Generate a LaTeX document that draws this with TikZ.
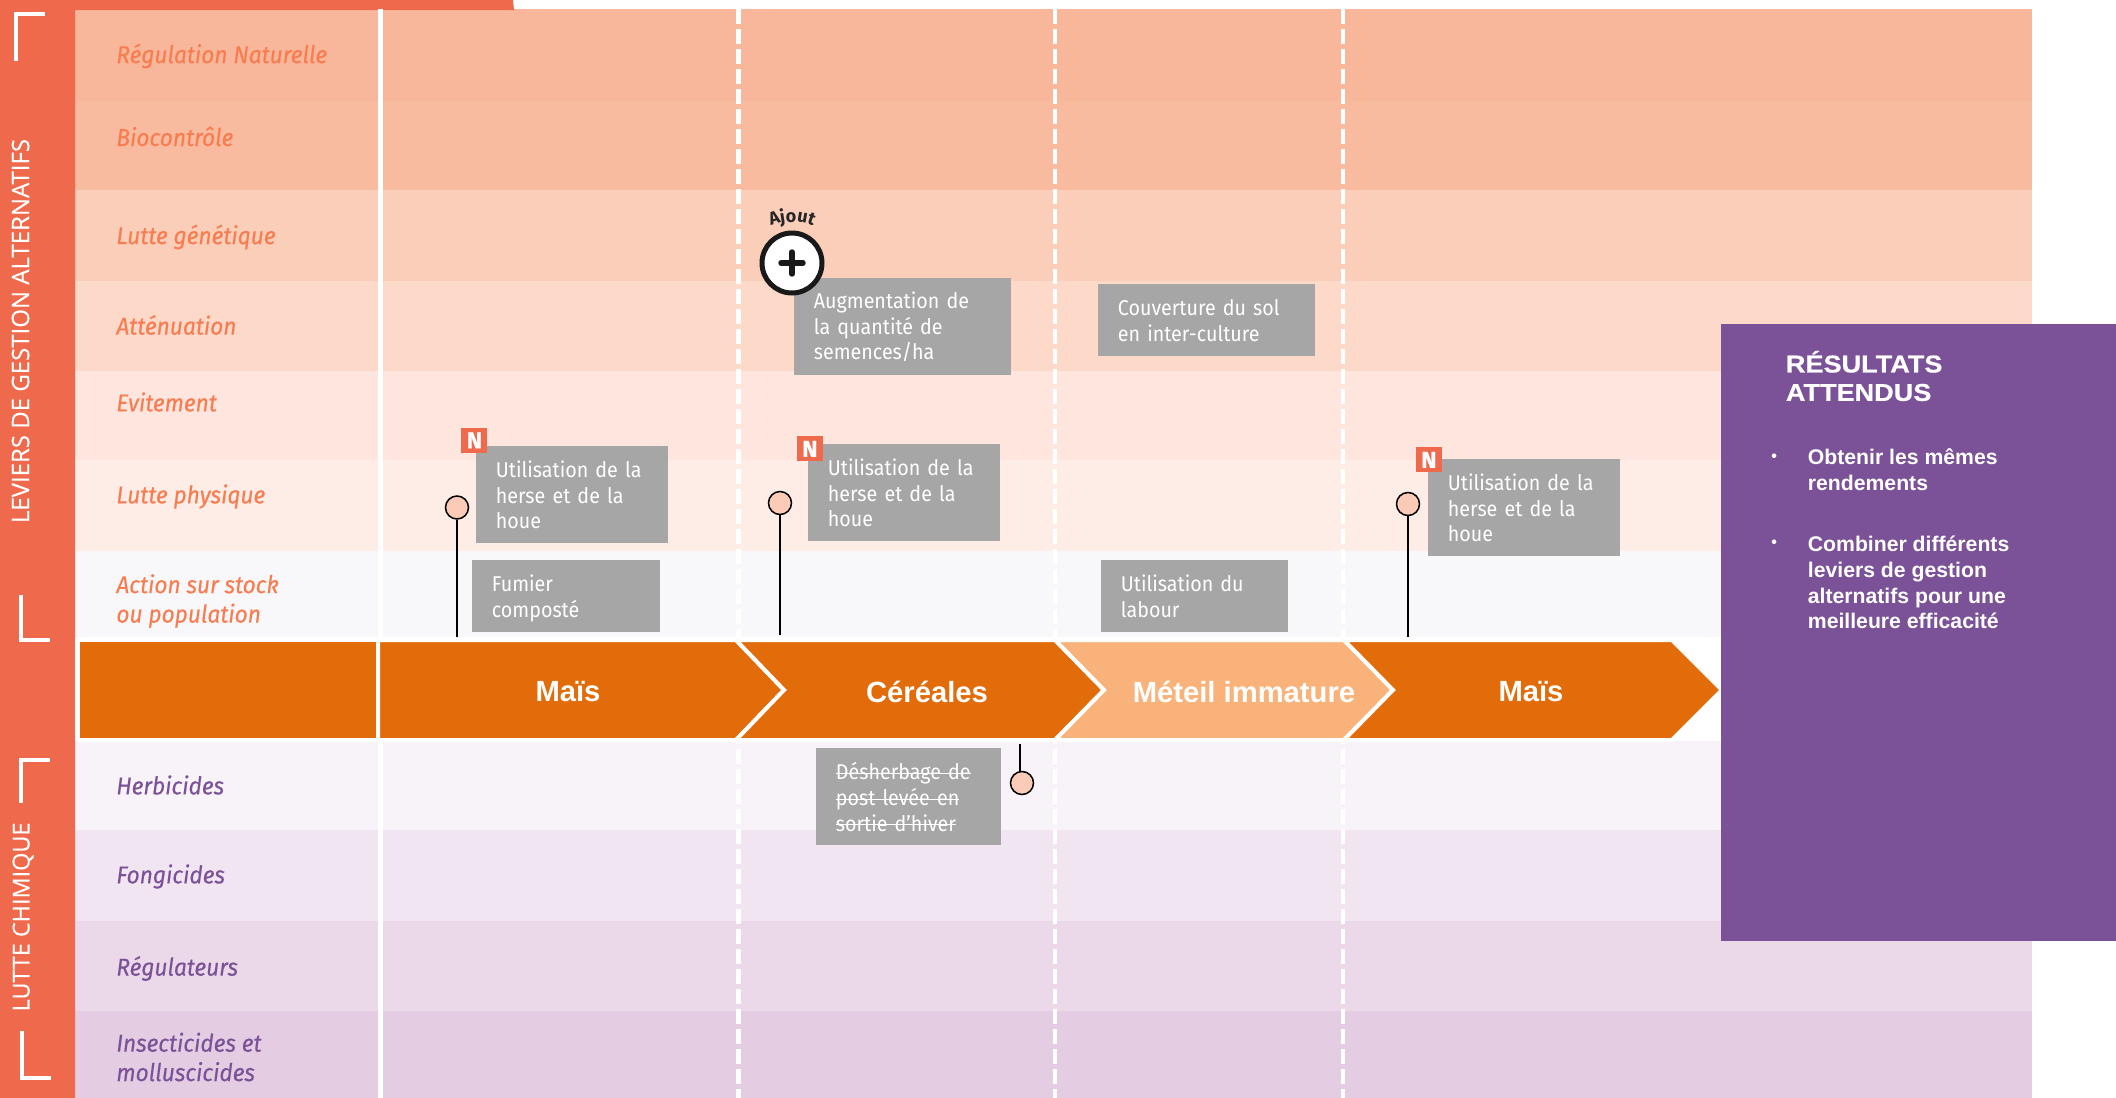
\documentclass[tikz,border=0pt]{standalone}
\usepackage{fontspec}
\usetikzlibrary{decorations.text}
\setmainfont{Fira Sans}
\newfontfamily\labelfont[FakeStretch=0.93,FakeBold=0.25]{Fira Sans}
\newfontfamily\notefont[FakeStretch=0.92]{Fira Sans}
\newfontfamily\armfont{Liberation Sans}
\newfontfamily\headfont[FakeStretch=1.11,FakeBold=0.5]{Liberation Sans}
\newfontfamily\sidefont[FakeBold=0.3]{Open Sans}
\newfontfamily\tagfont[FakeBold=0.6]{Fira Sans}
\newsavebox{\strkbox}
\newcommand{\strk}[1]{\leavevmode\sbox{\strkbox}{#1}\rlap{\rule[0.26em]{\wd\strkbox}{0.06em}}\usebox{\strkbox}}
\definecolor{sidebar}{HTML}{EF6A4C}
\definecolor{orangeA}{HTML}{E36C0A}
\definecolor{orangeB}{HTML}{F9B37A}
\definecolor{labelO}{HTML}{F87C50}
\definecolor{purp}{HTML}{7B5297}
\definecolor{graybox}{HTML}{A6A6A6}
\definecolor{pinfill}{HTML}{FBCBB8}
\definecolor{bandA}{HTML}{F8B79B}
\definecolor{bandB}{HTML}{F9BB9F}
\definecolor{bandC}{HTML}{FBCEBA}
\definecolor{bandD}{HTML}{FDD9CA}
\definecolor{bandE}{HTML}{FEE5DE}
\definecolor{bandF}{HTML}{FDEDE6}
\definecolor{bandG}{HTML}{F8F8FA}
\definecolor{bandH}{HTML}{F8F2F9}
\definecolor{bandI}{HTML}{F1E5F2}
\definecolor{bandJ}{HTML}{EBD9EA}
\definecolor{bandK}{HTML}{E4CCE3}
\tikzset{
  rowlabel/.style={anchor=west,inner sep=0pt,align=left,text=labelO,font=\labelfont\itshape\fontsize{12.2}{14.7}\selectfont},
  rowlabelP/.style={rowlabel,text=purp},
  note/.style n args={2}{draw=none,fill=graybox,anchor=north west,inner xsep=9.75pt,inner ysep=0pt,
    minimum width=#1*0.5pt,minimum height=#2*0.5pt,text width=#1*0.5pt-19.5pt,align=left,text=white,
    font=\notefont\fontsize{10.7}{12.85}\selectfont},
  newtag/.style={draw=none,fill=sidebar,anchor=north west,inner sep=0pt,minimum width=13pt,minimum height=12.5pt,
    text=white,font=\tagfont\bfseries\fontsize{11.5}{12}\selectfont},
  pinhead/.style={circle,draw=black,line width=.75pt,fill=pinfill,minimum size=11.5pt,inner sep=0pt},
  pinline/.style={draw=black,line width=.8pt},
  arm/.style={draw=white,line width=2pt,line join=miter},
  armlabel/.style={inner sep=0pt,text=white,font=\armfont\bfseries\fontsize{14.6}{16}\selectfont},
  corner/.style={draw=white,line width=1.6pt},
  sidetext/.style={rotate=90,inner sep=0pt,text=white,font=\sidefont\fontsize{12}{14}\selectfont},
  purptext/.style={anchor=west,inner sep=0pt,align=left,text=white,font=\armfont\bfseries\fontsize{10.6}{12.9}\selectfont},
  dashv/.style={draw=white,line width=2.2pt,dash pattern=on 7.5pt off 2.5pt},
}
\begin{document}
\begin{tikzpicture}[x=0.5pt,y=-0.5pt]
\useasboundingbox (0,0) rectangle (2116,1098);
\fill[white] (0,0) rectangle (2116,1098);
% rows
\fill[bandA] (75,9) rectangle (2032,101);
\fill[bandB] (75,101) rectangle (2032,190);
\fill[bandC] (75,190) rectangle (2032,281);
\fill[bandD] (75,281) rectangle (2032,371);
\fill[bandE] (75,371) rectangle (2032,460);
\fill[bandF] (75,460) rectangle (2032,551);
\fill[bandG] (75,551) rectangle (2032,637);
\fill[bandH] (75,741) rectangle (2032,830);
\fill[bandI] (75,830) rectangle (2032,921);
\fill[bandJ] (75,921) rectangle (2032,1011);
\fill[bandK] (75,1011) rectangle (2032,1098);
% sidebar
\fill[sidebar] (0,0) -- (513,0) -- (514,10) -- (75,10) -- (75,1098) -- (0,1098) -- cycle;
\draw[corner] (16,61) -- (16,14) -- (45,14);
\draw[corner] (21,595) -- (21,640) -- (50,640);
\draw[corner] (21,803) -- (21,760) -- (50,760);
\draw[corner] (22,1031) -- (22,1078) -- (51,1078);
\node[sidetext] (sideA) at (20.5,331) {LEVIERS DE GESTION ALTERNATIFS};
\node[sidetext,font=\sidefont\fontsize{11.7}{14}\selectfont] (sideB) at (23,917) {LUTTE CHIMIQUE};
% verticals
\draw[draw=white,line width=2.5pt] (380,9) -- (380,1098);
\draw[dashv] (738.5,9) -- (738.5,1098);
\draw[dashv] (1055,9) -- (1055,1098);
\draw[dashv] (1343,9) -- (1343,1098);
% row labels
\node[rowlabel] (l1) at (116,56) {Régulation Naturelle};
\node[rowlabel] (l2) at (116,136.5) {Biocontrôle};
\node[rowlabel] (l3) at (116,237) {Lutte génétique};
\node[rowlabel] (l4) at (116,325) {Atténuation};
\node[rowlabel] (l5) at (116,402) {Evitement};
\node[rowlabel] (l6) at (116,496.5) {Lutte physique};
\node[rowlabel] (l7) at (116,601) {Action sur stock\\ou population};
\node[rowlabelP] (l8) at (116,785) {Herbicides};
\node[rowlabelP] (l9) at (116,876.5) {Fongicides};
\node[rowlabelP] (l10) at (116,968.5) {Régulateurs};
\node[rowlabelP] (l11) at (116,1057) {Insecticides et\\molluscicides};
% crop arrows
\fill[white] (75,637) rectangle (1721,741);
\draw[arm,fill=orangeA] (77.5,640) -- (378,640) -- (378,740) -- (77.5,740) -- cycle;
\draw[arm,fill=orangeA] (378,640) -- (736,640) -- (784,690) -- (736,740) -- (378,740) -- cycle;
\draw[arm,fill=orangeA] (736,640) -- (784,690) -- (736,740) -- (1055,740) -- (1104,690) -- (1055,640) -- cycle;
\draw[arm,fill=orangeB] (1055,640) -- (1104,690) -- (1055,740) -- (1344,740) -- (1393,690) -- (1344,640) -- cycle;
\draw[arm,fill=orangeA] (1344,640) -- (1393,690) -- (1344,740) -- (1672,740) -- (1722,690) -- (1672,640) -- cycle;
\node[armlabel] (c1) at (568,692) {Maïs};
\node[armlabel] (c2) at (927,691.5) {Céréales};
\node[armlabel] (c3) at (1244,691.5) {Méteil immature};
\node[armlabel] (c4) at (1531,692) {Maïs};
% pins
\node[pinhead] (p1) at (457,507.5) {};
\coordinate (f1) at (457,637);
\draw[pinline] (p1) -- (f1);
\node[pinhead] (p2) at (780,503) {};
\coordinate (f2) at (780,635);
\draw[pinline] (p2) -- (f2);
\node[pinhead] (p4) at (1408,504) {};
\coordinate (f4) at (1408,637);
\draw[pinline] (p4) -- (f4);
\coordinate (f3) at (1020,744);
\coordinate (f3b) at (1020,772);
\node[pinhead] (p3) at (1022,783) {};
\draw[pinline] (f3) -- (f3b);
% notes
\node[note={192}{97}] (n1) at (476,446) {Utilisation de la\\herse et de la\\houe};
\node[note={188}{72}] (n2) at (472,560) {\rule{0pt}{10.5pt}Fumier\\composté};
\node[note={217}{97}] (n3) at (794,278) {Augmentation de\\la quantité de\\semences/ha};
\node[note={217}{72}] (n4) at (1098,284) {Couverture du sol\\en inter-culture};
\node[note={192}{97}] (n5) at (808,444) {Utilisation de la\\herse et de la\\houe};
\node[note={187}{72}] (n6) at (1101,560) {Utilisation du\\labour};
\node[note={185}{97}] (n7) at (816,748) {\strk{Désherbage de}\\\strk{post levée en}\\\strk{sortie d’hiver}};
\node[note={192}{97}] (n8) at (1428,459) {Utilisation de la\\herse et de la\\houe};
% tags
\node[newtag] (t1) at (461,427.5) {N};
\node[newtag] (t2) at (796.5,436) {N};
\node[newtag] (t3) at (1415.5,447) {N};
% add badge
\node[circle,draw=black!90,line width=2.5pt,fill=white,minimum size=30pt,inner sep=0pt] (plus) at (792,263) {};
\draw[black!90,line width=2.7pt,line cap=round] (781,263) -- (803,263) (792,252) -- (792,274);
\path[decorate,decoration={text along path,text align=center,text={|\bfseries\fontsize{9}{10}\selectfont\color{black!85}|Ajout}}]
  (752,240) .. controls (772,216) and (812,216) .. (832,240);
% results
\fill[purp] (1721,324) rectangle (2116,941);
\node[purptext,font=\headfont\bfseries\fontsize{12.2}{14.2}\selectfont] (r0) at (1785.5,376) {RÉSULTATS\\ATTENDUS};
\node[purptext,font=\armfont\bfseries\fontsize{8}{9}\selectfont] (b1) at (1771,457.5) {•};
\node[purptext] (r1) at (1807.5,470) {Obtenir les mêmes\\rendements};
\node[purptext,font=\armfont\bfseries\fontsize{8}{9}\selectfont] (b2) at (1771,544) {•};
\node[purptext] (r2) at (1807.5,582.5) {Combiner différents\\leviers de gestion\\alternatifs pour une\\meilleure efficacité};
\end{tikzpicture}
\end{document}
